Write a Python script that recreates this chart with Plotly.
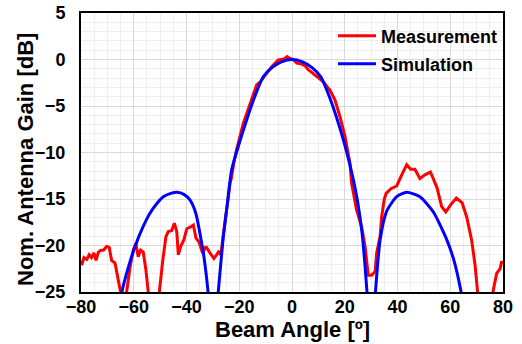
import plotly.graph_objects as go

meas_angle = [-80, -79.7, -78.9, -77.8, -76.9, -76.0, -75.1, -74.3, -73.4, -72.5, -71.5, -70.3, -69.3,
              -68.4, -67.1, -65.9, -65.0, -64.3, -63.5, -62.7, -61.4, -60.2, -59.2, -58.3, -57.4,
              -56.4, -55.4, -54.5, -54.0, -51.0, -50.3, -49.0, -47.8, -46.9, -45.6, -44.6, -43.7,
              -43.1, -42.2, -41.0, -39.9, -38.4, -37.4, -36.4, -35.3, -33.9, -32.6, -31.1, -29.6,
              -28.6, -27.9, -27.0, -26.0, -24.8, -23.5, -23.0, -22.0, -21.0, -18.5, -15.9, -14.5,
              -13.4, -12.0, -10.9, -9.3, -7.7, -5.2, -3.0, -1.8, -0.8, 0.5, 1.8, 3.7, 5.0, 6.2,
              8.0, 9.4, 11.9, 13.2, 14.4, 16.3, 18.2, 20.1, 22.0, 22.6, 24.5, 26.4, 27.7, 28.9,
              30.2, 31.5, 32.1, 33.4, 34.0, 35.0, 35.7, 37.5, 39.7, 41.6, 43.5, 45.0, 46.6, 48.5,
              50.4, 52.5, 53.6, 55.0, 56.7, 58.3, 60.2, 62.3, 64.5, 66.2, 68.1, 69.4, 70.3, 71.0,
              75.5, 76.3, 77.6, 78.9, 79.5, 80]
meas_gain = [-21.6, -22.1, -21.3, -21.5, -21.0, -21.3, -20.8, -21.6, -20.7, -20.5, -20.5, -20.1, -20.2,
             -21.6, -21.9, -23.7, -25.0, -28.0, -28.0, -25.0, -22.3, -20.5, -19.8, -21.2, -20.5,
             -20.7, -22.6, -25.0, -28.0, -28.0, -25.0, -21.6, -19.05, -18.5, -18.4, -17.6, -18.5,
             -21.0, -20.1, -19.4, -18.2, -18.0, -17.8, -19.2, -19.6, -20.8, -20.1, -20.8, -21.4,
             -21.0, -20.7, -21.0, -19.05, -16.2, -13.3, -12.8, -11.0, -9.7, -6.9, -4.7, -3.6,
             -2.74, -2.4, -2.0, -1.3, -0.77, -0.05, 0.05, 0.3, 0.1, 0.0, -0.4, -0.5, -0.7, -1.1,
             -1.5, -1.85, -2.4, -2.9, -3.3, -4.35, -6.15, -8.3, -11.2, -13.3, -16.2, -18.0, -20.1, -23.2,
             -23.2, -22.8, -20.8, -19.0, -16.9, -15.0, -14.4, -13.9, -13.6, -12.4, -11.3, -11.8, -11.8, -12.8,
             -12.4, -12.1, -12.8, -13.8, -15.8, -16.4, -15.6, -14.9, -15.4, -16.9, -19.4, -22.1, -24.8, -28.0,
             -28.0, -24.8, -23.0, -22.5, -21.7, -22.0]

# Simulation (blue)
sim_angle = [-66.0, -64.5, -62.0, -59.5, -56.5, -53.8, -51.0, -48.8, -46.0, -43.5, -41.0, -38.7, -36.5,
             -34.9, -33.5, -32.3, -31.5, -30.5, -29.5, -28.6, -27.9, -26.05, -24.5, -22.9, -20.0,
             -17.2, -14.4, -10.9, -7.5, -4.0, 0.0, 4.0, 7.5, 10.9, 14.4, 17.2, 19.5, 21.5, 23.3,
             25.0, 26.5, 27.5, 28.3, 29.0, 30.0, 30.5, 31.2, 31.8, 33.4, 35.9, 39.7, 43.5, 48.5,
             53.6, 58.7, 61.5, 63.7, 65.0, 66.0]
sim_gain = [-28.0, -25.0, -22.3, -20.1, -18.0, -16.5, -15.4, -14.75, -14.4, -14.28, -14.5, -15.1, -16.5,
            -18.7, -21.0, -23.7, -26.0, -30.0, -30.0, -27.0, -24.8, -19.05, -15.5, -11.9, -9.0,
            -6.5, -4.2, -1.85, -0.85, -0.25, 0.0, -0.25, -0.85, -1.85, -4.17, -6.5, -8.66, -10.8, -13.0,
            -15.5, -18.5, -21.5, -24.5, -27.0, -31.0, -31.0, -27.0, -24.4, -19.4, -16.3, -14.75, -14.28, -14.75,
            -16.4, -19.4, -21.7, -24.4, -26.5, -28.0]

x_ticks = [-80, -60, -40, -20, 0, 20, 40, 60, 80]
y_ticks = [5, 0, -5, -10, -15, -20, -25]
x_title = "Beam Angle [º]"
y_title = "Nom. Antenna Gain [dB]"

FONT = "Liberation Sans, Arial, sans-serif"

fig = go.Figure()
fig.add_trace(go.Scatter(x=meas_angle, y=meas_gain, mode="lines", name="Measurement",
                         line=dict(color="#ff0000", width=3), legend="legend"))
fig.add_trace(go.Scatter(x=sim_angle, y=sim_gain, mode="lines", name="Simulation",
                         line=dict(color="#0000ff", width=3, shape="spline", smoothing=0.6),
                         legend="legend2"))

axis_common = dict(showline=True, linecolor="black", linewidth=2, mirror=True,
                   showgrid=True, gridcolor="#d9d9d9", gridwidth=1, zeroline=False,
                   automargin=False,
                   ticks="", tickfont=dict(family=FONT, size=18, color="black", weight="bold"))

fig.update_xaxes(range=[-80, 80], tickvals=x_ticks,
                 minor=dict(dtick=5, showgrid=True, gridcolor="#efefef", gridwidth=1),
                 ticklabelstandoff=-3, **axis_common)
fig.update_yaxes(range=[-25, 5], tickvals=y_ticks,
                 minor=dict(dtick=1, showgrid=True, gridcolor="#efefef", gridwidth=1),
                 ticklabelstandoff=10, **axis_common)

title_font = dict(family=FONT, size=22, color="black", weight="bold")
fig.add_annotation(text=x_title, xref="paper", yref="paper", x=0.5, y=(292 - 329) / 279,
                   xanchor="center", yanchor="middle", showarrow=False, font=title_font)
fig.add_annotation(text=y_title, xref="paper", yref="paper", x=(25 - 81) / 422, y=(292 - 160) / 279,
                   xanchor="center", yanchor="middle", showarrow=False, textangle=-90, font=title_font)

leg_common = dict(font=dict(family=FONT, size=18, color="black", weight="bold"),
                  bgcolor="rgba(0,0,0,0)", xanchor="left", yanchor="middle", xref="paper", yref="paper",
                  itemwidth=38)
fig.update_layout(
    width=522, height=344,
    margin=dict(l=81, r=19, t=13, b=52),
    paper_bgcolor="white", plot_bgcolor="white",
    legend=dict(x=(333 - 81) / 422, y=(292 - 36) / 279, **leg_common),
    legend2=dict(x=(333 - 81) / 422, y=(292 - 64) / 279, **leg_common),
    showlegend=True,
)

fig.write_html("out.html")
